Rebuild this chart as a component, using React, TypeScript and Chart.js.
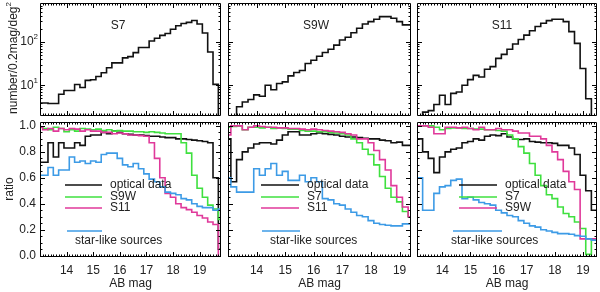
import React, { useEffect, useRef } from "react";
import { Chart, registerables } from "chart.js";
Chart.register(...registerables);

// ---------------- DATA ----------------
// bin centres (AB mag)
const MAG_S7 = [13.0, 13.2, 13.4, 13.6, 13.8, 14.0, 14.2, 14.4, 14.6, 14.8, 15.0, 15.2, 15.4, 15.6, 15.8, 16.0, 16.2, 16.4, 16.6, 16.8, 17.0, 17.2, 17.4, 17.6, 17.8, 18.0, 18.2, 18.4, 18.6, 18.8, 19.0, 19.2, 19.4, 19.6, 19.8];
const MAG_S9W = [13.0, 13.2, 13.4, 13.6, 13.8, 14.0, 14.2, 14.4, 14.6, 14.8, 15.0, 15.2, 15.4, 15.6, 15.8, 16.0, 16.2, 16.4, 16.6, 16.8, 17.0, 17.2, 17.4, 17.6, 17.8, 18.0, 18.2, 18.4, 18.6, 18.8, 19.0, 19.2, 19.4];
const MAG_S11 = [13.0, 13.2, 13.4, 13.6, 13.8, 14.0, 14.2, 14.4, 14.6, 14.8, 15.0, 15.2, 15.4, 15.6, 15.8, 16.0, 16.2, 16.4, 16.6, 16.8, 17.0, 17.2, 17.4, 17.6, 17.8, 18.0, 18.2, 18.4, 18.6, 18.8, 19.0, 19.2, 19.4, 19.6];

// number counts per 0.2 mag per deg^2
const COUNTS_S7 = [3.9, 3.9, 3.8, 3.8, 6.2, 7.6, 7.6, 10.4, 8.9, 13, 13.4, 16, 19.5, 25.5, 33, 33, 43, 46, 57, 75, 75, 106, 122, 143, 158, 198, 238, 268, 285, 315, 262, 162, 59, 10.5, 1];
const COUNTS_S9W = [1, 1, 3.2, 4.1, 4.7, 6.0, 5.6, 10, 7.9, 11, 12, 16.5, 19.8, 22, 32, 38, 47, 57.5, 68, 85, 112, 129, 164, 208, 262, 296, 337, 388, 388, 355, 296, 250, 250];
const COUNTS_S11 = [1, 1, 2.4, 2.6, 3.6, 5.9, 3.6, 6.5, 7.0, 10, 13.5, 17, 15.5, 23.5, 27, 42, 52, 68, 90, 115, 145, 183, 228, 272, 313, 337, 337, 296, 174, 93, 24.5, 4.9, 1, 1];

// ratios, S7 panel
const S7_OPTICAL = [0.72, 0.72, 0.87, 0.76, 0.87, 0.83, 0.83, 0.87, 0.85, 0.92, 0.93, 0.93, 0.95, 0.94, 0.96, 0.95, 0.94, 0.935, 0.93, 0.93, 0.925, 0.92, 0.92, 0.915, 0.91, 0.91, 0.90, 0.90, 0.895, 0.89, 0.885, 0.88, 0.87, 0.60, 0.05];
const S7_S9W = [0.99, 0.98, 0.97, 0.99, 0.98, 0.955, 0.97, 0.96, 0.98, 0.975, 0.97, 0.975, 0.965, 0.97, 0.96, 0.965, 0.96, 0.96, 0.955, 0.955, 0.95, 0.955, 0.95, 0.945, 0.94, 0.94, 0.94, 0.87, 0.79, 0.62, 0.52, 0.45, 0.39, 0.36, 0.28];
const S7_S11 = [0.99, 0.97, 0.98, 0.96, 0.98, 0.97, 0.98, 0.975, 0.96, 0.97, 0.96, 0.96, 0.95, 0.95, 0.94, 0.945, 0.94, 0.93, 0.93, 0.925, 0.92, 0.87, 0.75, 0.60, 0.48, 0.45, 0.40, 0.37, 0.355, 0.335, 0.31, 0.29, 0.26, 0.24, -0.05];
const S7_STAR = [0.62, 0.62, 0.68, 0.62, 0.66, 0.66, 0.76, 0.72, 0.73, 0.71, 0.73, 0.72, 0.78, 0.79, 0.79, 0.75, 0.70, 0.685, 0.71, 0.67, 0.63, 0.59, 0.57, 0.53, 0.49, 0.48, 0.47, 0.44, 0.43, 0.40, 0.38, 0.37, 0.37, 0.35, 0.36];

// ratios, S9W panel
const S9W_OPTICAL = [0.90, 0.57, 0.74, 0.80, 0.83, 0.86, 0.87, 0.87, 0.86, 0.89, 0.93, 0.955, 0.955, 0.93, 0.93, 0.94, 0.945, 0.94, 0.935, 0.93, 0.92, 0.915, 0.915, 0.91, 0.905, 0.90, 0.90, 0.89, 0.885, 0.87, 0.875, 0.85, 0.85];
const S9W_S7 = [0.99, 0.995, 1.0, 0.97, 0.99, 0.99, 0.985, 0.99, 0.98, 0.985, 0.98, 0.975, 0.975, 0.965, 0.96, 0.96, 0.955, 0.955, 0.95, 0.945, 0.94, 0.93, 0.90, 0.87, 0.82, 0.78, 0.70, 0.61, 0.52, 0.45, 0.415, 0.34, 0.30];
const S9W_S11 = [0.93, 1.0, 1.0, 0.97, 0.99, 1.0, 0.995, 0.99, 0.99, 0.985, 0.985, 0.98, 0.98, 0.975, 0.97, 0.975, 0.97, 0.965, 0.96, 0.955, 0.95, 0.94, 0.93, 0.90, 0.90, 0.87, 0.81, 0.74, 0.66, 0.54, 0.45, 0.375, 0.30];
const S9W_STAR = [0.60, 0.53, 0.49, 0.49, 0.49, 0.67, 0.62, 0.67, 0.71, 0.62, 0.65, 0.58, 0.58, 0.62, 0.57, 0.60, 0.57, 0.44, 0.43, 0.40, 0.39, 0.36, 0.335, 0.31, 0.30, 0.27, 0.25, 0.24, 0.235, 0.23, 0.23, 0.245, 0.245];

// ratios, S11 panel
const S11_OPTICAL = [0.97, 0.90, 0.80, 0.75, 0.64, 0.76, 0.80, 0.82, 0.83, 0.87, 0.88, 0.90, 0.89, 0.92, 0.93, 0.925, 0.94, 0.915, 0.90, 0.895, 0.90, 0.88, 0.875, 0.87, 0.87, 0.865, 0.85, 0.85, 0.83, 0.78, 0.62, 0.50, 0.35, 0.35];
const S11_S7 = [1.0, 1.0, 1.0, 1.0, 0.99, 0.97, 0.98, 0.985, 0.985, 0.98, 0.98, 0.975, 0.975, 0.97, 0.97, 0.965, 0.96, 0.93, 0.90, 0.84, 0.79, 0.71, 0.62, 0.54, 0.47, 0.44, 0.375, 0.325, 0.30, 0.26, 0.21, 0.01, 0.13, 0.13];
const S11_S9W = [1.0, 1.0, 1.0, 0.99, 0.94, 0.94, 0.99, 0.99, 0.985, 0.99, 0.98, 0.97, 0.99, 0.97, 0.97, 0.98, 0.97, 0.97, 0.96, 0.945, 0.945, 0.92, 0.92, 0.90, 0.85, 0.80, 0.74, 0.65, 0.57, 0.51, 0.13, 0.13, 0.13, 0.13];
const S11_STAR = [1.0, 0.60, 0.35, 0.35, 0.48, 0.53, 0.54, 0.58, 0.59, 0.44, 0.45, 0.43, 0.41, 0.40, 0.39, 0.35, 0.33, 0.31, 0.30, 0.27, 0.25, 0.23, 0.22, 0.20, 0.19, 0.18, 0.17, 0.17, 0.165, 0.155, 0.15, 0.13, 0.12, 0.12];

const X_TICK_LABELS = [14, 15, 16, 17, 18, 19];
const RATIO_TICKS = [0.0, 0.2, 0.4, 0.6, 0.8, 1.0];
const LOG_TICKS = [10, 100];

// ---------------- STYLE / LAYOUT ----------------
const W = 600;
const H = 292;
const FONT = '"Liberation Sans", Arial, Helvetica, sans-serif';
const TXT = "#222222";
const C_BLACK = "#111111";
const C_GREEN = "#3fe03f";
const C_MAGENTA = "#e0399a";
const C_BLUE = "#3d9be6";

const COLS = [
  { l: 40, r: 221, xMin: 13.0, xMax: 19.8 },
  { l: 228, r: 411, xMin: 13.0, xMax: 19.4 },
  { l: 417, r: 597, xMin: 13.1, xMax: 19.5 },
];
const TOP = { t: 3, b: 116 };
const BOT = { t: 122, b: 257 };

type DS = { x: number[]; y: number[]; color: string };
type Panel = {
  col: number;
  top: boolean;
  datasets: DS[];
  title?: { text: string; x: number; y: number };
  legend?: { lx1: number; lx2: number; bx1: number; bx2: number; tx: number; sx: number; labels: string[] };
  first?: boolean;
};

const PANELS: Panel[] = [
  { col: 0, top: true, first: true, datasets: [{ x: MAG_S7, y: COUNTS_S7, color: C_BLACK }], title: { text: "S7", x: 118, y: 26 } },
  { col: 1, top: true, datasets: [{ x: MAG_S9W, y: COUNTS_S9W, color: C_BLACK }], title: { text: "S9W", x: 316, y: 26 } },
  { col: 2, top: true, datasets: [{ x: MAG_S11, y: COUNTS_S11, color: C_BLACK }], title: { text: "S11", x: 502, y: 26 } },
  {
    col: 0, top: false, first: true,
    datasets: [
      { x: MAG_S7, y: S7_STAR, color: C_BLUE },
      { x: MAG_S7, y: S7_S11, color: C_MAGENTA },
      { x: MAG_S7, y: S7_S9W, color: C_GREEN },
      { x: MAG_S7, y: S7_OPTICAL, color: C_BLACK },
    ],
    legend: { lx1: 65, lx2: 102, bx1: 67, bx2: 102, tx: 110, sx: 75, labels: ["optical data", "S9W", "S11"] },
  },
  {
    col: 1, top: false,
    datasets: [
      { x: MAG_S9W, y: S9W_STAR, color: C_BLUE },
      { x: MAG_S9W, y: S9W_S11, color: C_MAGENTA },
      { x: MAG_S9W, y: S9W_S7, color: C_GREEN },
      { x: MAG_S9W, y: S9W_OPTICAL, color: C_BLACK },
    ],
    legend: { lx1: 261, lx2: 299, bx1: 262, bx2: 300, tx: 307, sx: 270, labels: ["optical data", "S7", "S11"] },
  },
  {
    col: 2, top: false,
    datasets: [
      { x: MAG_S11, y: S11_STAR, color: C_BLUE },
      { x: MAG_S11, y: S11_S9W, color: C_MAGENTA },
      { x: MAG_S11, y: S11_S7, color: C_GREEN },
      { x: MAG_S11, y: S11_OPTICAL, color: C_BLACK },
    ],
    legend: { lx1: 459, lx2: 497, bx1: 453, bx2: 502, tx: 505, sx: 451, labels: ["optical data", "S7", "S9W"] },
  },
];

function decorate(chart: any, p: Panel) {
  const { ctx, chartArea: a } = chart;
  const xs = chart.scales.x;
  const ys = chart.scales.y;
  ctx.save();
  ctx.strokeStyle = "#000";
  ctx.lineWidth = 1;
  ctx.beginPath();
  ctx.rect(a.left + 0.5, a.top + 0.5, a.right - a.left - 1, a.bottom - a.top - 1);
  ctx.stroke();

  const MAJ = 5;
  const MIN = 2.5;
  ctx.beginPath();
  const xt = (v: number, len: number) => {
    const px = xs.getPixelForValue(v);
    if (px < a.left + 1 || px > a.right - 1) return;
    const q = Math.round(px) + 0.5;
    ctx.moveTo(q, a.bottom);
    ctx.lineTo(q, a.bottom - len);
    ctx.moveTo(q, a.top);
    ctx.lineTo(q, a.top + len);
  };
  const yt = (v: number, len: number) => {
    const py = ys.getPixelForValue(v);
    if (py < a.top + 1 || py > a.bottom - 1) return;
    const q = Math.round(py) + 0.5;
    ctx.moveTo(a.left, q);
    ctx.lineTo(a.left + len, q);
    ctx.moveTo(a.right, q);
    ctx.lineTo(a.right - len, q);
  };
  for (let k = 130; k <= 200; k++) {
    const v = k / 10;
    xt(v, k % 10 === 0 ? MAJ : MIN);
  }
  if (p.top) {
    for (let e = 0; e <= 3; e++) {
      const base = Math.pow(10, e);
      yt(base, MAJ);
      for (let d = 2; d <= 9; d++) yt(d * base, MIN);
    }
  } else {
    for (let k = 0; k <= 20; k++) {
      const v = k * 0.05;
      yt(v, k % 4 === 0 ? MAJ : MIN);
    }
  }
  ctx.stroke();

  ctx.fillStyle = TXT;
  ctx.font = `12px ${FONT}`;
  ctx.textAlign = "center";
  ctx.textBaseline = "middle";

  if (p.title) ctx.fillText(p.title.text, p.title.x, p.title.y);

  if (!p.top) {
    for (const v of X_TICK_LABELS) {
      ctx.fillText(String(v), xs.getPixelForValue(v), 271);
    }
    ctx.fillText("AB mag", (a.left + a.right) / 2, 284);
  }

  if (p.first) {
    ctx.textAlign = "right";
    if (p.top) {
      for (const v of LOG_TICKS) {
        const py = ys.getPixelForValue(v);
        const e = String(Math.round(Math.log10(v)));
        ctx.font = `8px ${FONT}`;
        ctx.fillText(e, 38, py - 5);
        const ew = ctx.measureText(e).width;
        ctx.font = `12px ${FONT}`;
        ctx.fillText("10", 38 - ew, py);
      }
      ctx.save();
      ctx.translate(14, 58);
      ctx.rotate(-Math.PI / 2);
      ctx.textAlign = "left";
      ctx.font = `12px ${FONT}`;
      const main = "number/0.2mag/deg";
      const mw = ctx.measureText(main).width;
      ctx.font = `8px ${FONT}`;
      const sw = ctx.measureText("2").width;
      const start = -(mw + sw) / 2;
      ctx.font = `12px ${FONT}`;
      ctx.fillText(main, start, 0);
      ctx.font = `8px ${FONT}`;
      ctx.fillText("2", start + mw, -5);
      ctx.restore();
    } else {
      for (const v of RATIO_TICKS) {
        ctx.fillText(v.toFixed(1), 36, ys.getPixelForValue(v));
      }
      ctx.save();
      ctx.translate(10, 189);
      ctx.rotate(-Math.PI / 2);
      ctx.textAlign = "center";
      ctx.fillText("ratio", 0, 0);
      ctx.restore();
    }
  }

  if (p.legend) {
    const L = p.legend;
    const rows = [185, 197, 208];
    const cols = [C_BLACK, C_GREEN, C_MAGENTA];
    ctx.lineWidth = 1.6;
    rows.forEach((ry, i) => {
      ctx.strokeStyle = cols[i];
      ctx.beginPath();
      ctx.moveTo(L.lx1, ry);
      ctx.lineTo(L.lx2, ry);
      ctx.stroke();
    });
    ctx.strokeStyle = C_BLUE;
    ctx.beginPath();
    ctx.moveTo(L.bx1, 231);
    ctx.lineTo(L.bx2, 231);
    ctx.stroke();
    ctx.fillStyle = TXT;
    ctx.textAlign = "left";
    ctx.font = `12px ${FONT}`;
    rows.forEach((ry, i) => ctx.fillText(L.labels[i], L.tx, ry));
    ctx.fillText("star-like sources", L.sx, 241);
  }
  ctx.restore();
}

function buildChart(canvas: HTMLCanvasElement, p: Panel) {
  const c = COLS[p.col];
  const row = p.top ? TOP : BOT;
  return new Chart(canvas, {
    type: "line",
    data: {
      datasets: p.datasets.map((d) => ({
        data: d.x.map((x, i) => ({ x, y: d.y[i] })),
        borderColor: d.color,
        borderWidth: 1.6,
        pointRadius: 0,
        stepped: "middle" as const,
        fill: false,
        tension: 0,
      })),
    },
    options: {
      responsive: false,
      animation: false,
      devicePixelRatio: 1,
      events: [],
      layout: { padding: { left: c.l, top: row.t, right: W - c.r, bottom: H - row.b } },
      plugins: { legend: { display: false }, tooltip: { enabled: false }, title: { display: false } },
      scales: {
        x: { type: "linear", min: c.xMin, max: c.xMax, display: false },
        y: p.top
          ? { type: "logarithmic", min: 1.95, max: 800, display: false }
          : { type: "linear", min: -0.01, max: 1.03, display: false },
      },
    },
    plugins: [{ id: "frame" + p.col + (p.top ? "t" : "b"), afterDraw: (ch: any) => decorate(ch, p) }],
  } as any);
}

export default function App() {
  const refs = useRef<(HTMLCanvasElement | null)[]>([]);
  useEffect(() => {
    const charts = PANELS.map((p, i) => buildChart(refs.current[i] as HTMLCanvasElement, p));
    return () => charts.forEach((c) => c.destroy());
  }, []);
  return (
    <div style={{ position: "fixed", left: 0, top: 0, width: W, height: H, background: "#fff" }}>
      {PANELS.map((p, i) => (
        <canvas
          key={i}
          ref={(el) => {
            refs.current[i] = el;
          }}
          width={W}
          height={H}
          style={{ position: "absolute", left: 0, top: 0, width: W, height: H }}
        />
      ))}
    </div>
  );
}
